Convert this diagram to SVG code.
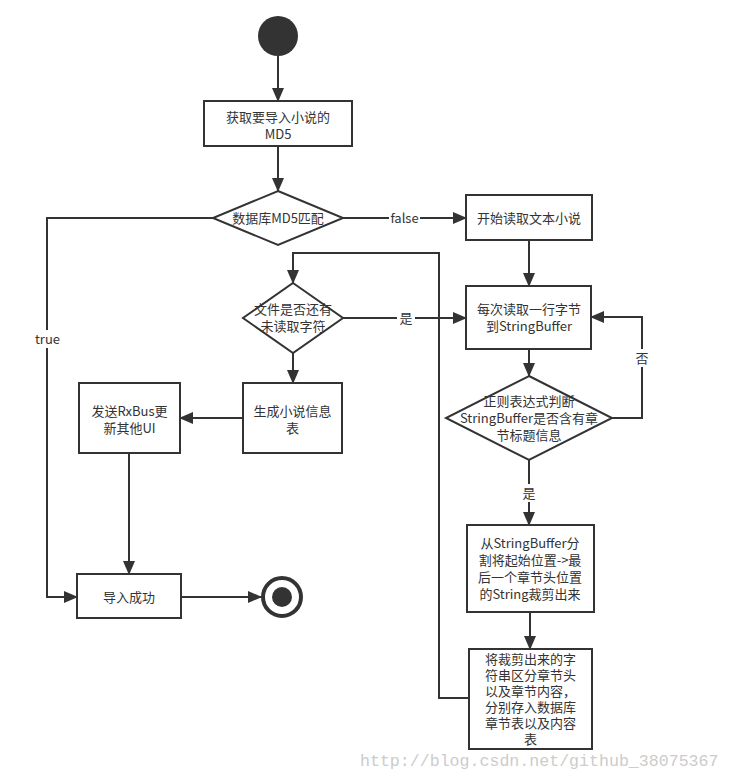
<svg xmlns="http://www.w3.org/2000/svg" width="732" height="780" viewBox="0 0 732 780">
<defs>
<style>
.n{fill:#fff;stroke:#333;stroke-width:2}
.t{font-family:"Noto Sans CJK SC","Microsoft YaHei",sans-serif;font-size:13px;fill:#333;text-anchor:middle}
.c{fill:none;stroke:#333;stroke-width:2}
.lb{fill:#fff}
</style>
<marker id="a" markerUnits="userSpaceOnUse" markerWidth="14" markerHeight="12" refX="13" refY="6" orient="auto">
<path d="M0,0 L14,6 L0,12 Z" fill="#333"/>
</marker>
</defs>
<rect width="732" height="780" fill="#fff"/>
<g id="connectors">
<path class="c" d="M278,56 V101" marker-end="url(#a)"/>
<path class="c" d="M278,146 V191" marker-end="url(#a)"/>
<path class="c" d="M343,218 H466" marker-end="url(#a)"/>
<path class="c" d="M213,218 H47 V597 H77" marker-end="url(#a)"/>
<path class="c" d="M529,240 V286" marker-end="url(#a)"/>
<path class="c" d="M529,349 V376" marker-end="url(#a)"/>
<path class="c" d="M612,418 H642 V317 H591" marker-end="url(#a)"/>
<path class="c" d="M529,460 V525" marker-end="url(#a)"/>
<path class="c" d="M530,612 V649" marker-end="url(#a)"/>
<path class="c" d="M469,698 H439 V253 H293 V283" marker-end="url(#a)"/>
<path class="c" d="M343,318 H466" marker-end="url(#a)"/>
<path class="c" d="M293,353 V383" marker-end="url(#a)"/>
<path class="c" d="M243,418 H180" marker-end="url(#a)"/>
<path class="c" d="M129,453 V574" marker-end="url(#a)"/>
<path class="c" d="M181,597 H261" marker-end="url(#a)"/>
<rect class="lb" x="389" y="209" width="31" height="18"/>
<text class="t" x="404.5" y="222.5">false</text>
<rect class="lb" x="34" y="330" width="27" height="18"/>
<text class="t" x="47.5" y="343.5">true</text>
<rect class="lb" x="632" y="349" width="20" height="18"/>
<text class="t" x="642" y="362.5">否</text>
<rect class="lb" x="520" y="484" width="18" height="18"/>
<text class="t" x="529" y="497.5">是</text>
<rect class="lb" x="397" y="309" width="18" height="18"/>
<text class="t" x="406" y="322.5">是</text>
</g>
<g id="start"><circle cx="278" cy="36" r="20" fill="#333"/></g>
<g id="getMD5"><rect class="n" x="204" y="101" width="148" height="45"/>
<text class="t" x="278" y="121.5">获取要导入小说的</text><text class="t" x="278" y="138.5">MD5</text></g>
<g id="dbMatch"><path class="n" d="M278,191 L343,218 L278,245 L213,218 Z"/>
<text class="t" x="278" y="222.5">数据库MD5匹配</text></g>
<g id="startRead"><rect class="n" x="466" y="195" width="126" height="45"/>
<text class="t" x="529" y="222.5">开始读取文本小说</text></g>
<g id="readLine"><rect class="n" x="466" y="286" width="125" height="63"/>
<text class="t" x="529" y="313.5">每次读取一行字节</text><text class="t" x="529" y="330.5">到StringBuffer</text></g>
<g id="regexCheck"><path class="n" d="M529,376 L612,418 L529,460 L446,418 Z"/>
<text class="t" x="529" y="405.5">正则表达式判断</text><text class="t" x="529" y="422.5">StringBuffer是否含有章</text><text class="t" x="529" y="439.5">节标题信息</text></g>
<g id="split"><rect class="n" x="467" y="525" width="127" height="87"/>
<text class="t" x="530" y="547.5">从StringBuffer分</text><text class="t" x="530" y="564.5">割将起始位置-&gt;最</text><text class="t" x="530" y="581.5">后一个章节头位置</text><text class="t" x="530" y="598.5">的String裁剪出来</text></g>
<g id="store"><rect class="n" x="469" y="649" width="123" height="100"/>
<text class="t" x="530.5" y="664">将裁剪出来的字</text><text class="t" x="530.5" y="680">符串区分章节头</text><text class="t" x="530.5" y="696">以及章节内容，</text><text class="t" x="530.5" y="712">分别存入数据库</text><text class="t" x="530.5" y="728">章节表以及内容</text><text class="t" x="530.5" y="744">表</text></g>
<g id="hasMore"><path class="n" d="M293,283 L343,318 L293,353 L243,318 Z"/>
<text class="t" x="293" y="314">文件是否还有</text><text class="t" x="293" y="330.5">未读取字符</text></g>
<g id="genInfo"><rect class="n" x="243" y="383" width="99" height="70"/>
<text class="t" x="292.5" y="415.5">生成小说信息</text><text class="t" x="292.5" y="432.5">表</text></g>
<g id="sendRxBus"><rect class="n" x="79" y="383" width="101" height="70"/>
<text class="t" x="129.5" y="415.5">发送RxBus更</text><text class="t" x="129.5" y="432.5">新其他UI</text></g>
<g id="success"><rect class="n" x="77" y="574" width="104" height="44"/>
<text class="t" x="129" y="601.5">导入成功</text></g>
<g id="end"><circle cx="282" cy="597" r="19" fill="#fff" stroke="#333" stroke-width="4"/><circle cx="282" cy="597" r="10" fill="#333"/></g>
<text x="360" y="766" font-family="Liberation Mono, monospace" font-size="16.6" fill="#cccccc">http://blog.csdn.net/github_38075367</text>
</svg>
